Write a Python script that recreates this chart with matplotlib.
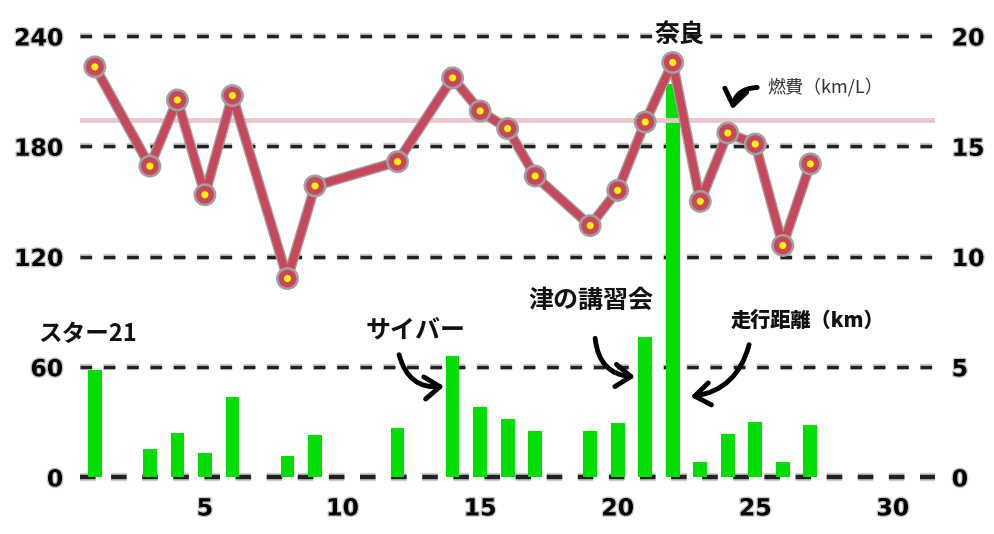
import matplotlib
matplotlib.use("Agg")
import matplotlib.pyplot as plt
import matplotlib.patheffects as pe
from matplotlib.patches import FancyArrowPatch

plt.rcParams['font.family'] = ['Noto Sans CJK JP', 'DejaVu Sans']

# ---- data ----
days = [1, 3, 4, 5, 6, 8, 9, 12, 14, 15, 16, 17, 19, 20, 21, 22, 23, 24, 25, 26, 27]
distance_km = [58, 15, 24, 13, 43.5, 11.5, 23, 26.7, 66, 38, 31.6, 25, 25, 29.4, 76, 214,
               8, 23.4, 30, 8, 28.5]
fuel_kmL = [18.6, 14.1, 17.1, 12.8, 17.3, 9.0, 13.2, 14.3, 18.1, 16.6, 15.8, 13.65, 11.4,
            13.0, 16.1, 18.8, 12.5, 15.6, 15.1, 10.5, 14.2]
fuel_ref = 16.2
left_ticks = [0, 60, 120, 180, 240]
right_ticks = [0, 5, 10, 15, 20]
x_ticks = [5, 10, 15, 20, 25, 30]

notes = [("スター21", 0.75, 78, 'bold', 17),
         ("サイバー", 12.67, 80, 'bold', 18),
         ("津の講習会", 19.02, 96, 'bold', 18),
         ("走行距離（km）", 26.9, 85, 'heavy', 14.5),
         ("奈良", 22.25, 240.5, 'bold', 18),
         ("燃費（km/L）", 27.53, 212, 'normal', 13)]
arrows = [((12.03, 68), (13.79, 49.5), 0.45),
          ((19.17, 77), (20.73, 54.4), 0.45),
          ((24.8, 73.5), (22.55, 43.5), -0.35),
          ((25.17, 212), (24.15, 198.6), 0.45)]

# ---- figure ----
fig = plt.figure(figsize=(9.94, 5.34), dpi=100)
ax = fig.add_axes([80/994, 1-477/534, 855/994, 441/534])
ax2 = ax.twinx()

ax.set_xlim(0.46, 31.53)
ax.set_ylim(0, 240)
ax2.set_ylim(0, 20)

for a in (ax, ax2):
    for s in a.spines.values():
        s.set_visible(False)
    a.tick_params(length=0)

# gridlines
for v in left_ticks:
    ax.axhline(v, color='#222222', lw=2.4 if v else 3.2, ls=(0, (3.5, 3.5)),
               clip_on=False, zorder=1,
               path_effects=[pe.withStroke(linewidth=4.5 if v else 6, foreground='#cccccc')])

ax.bar(days, distance_km, width=0.5, color='#00DD00', zorder=2)

ax2.axhline(fuel_ref, color='#EBC6CC', lw=3.5, zorder=2)
ax2.plot(days, fuel_kmL, color='#C8475A', lw=5.5, zorder=3, solid_joinstyle='round',
         marker='o', ms=9, mfc='#FFF200', mec='#C8475A', mew=3.8,
         path_effects=[pe.withStroke(linewidth=7.5, foreground='#a0a0a0')])

ax.set_xticks(x_ticks)
ax.set_xticklabels([str(t) for t in x_ticks], fontsize=17, fontweight='bold',
                   family='DejaVu Sans')
ax.set_yticks(left_ticks)
ax.set_yticklabels([str(t) for t in left_ticks], fontsize=17, fontweight='bold',
                   family='DejaVu Sans')
ax2.set_yticks(right_ticks)
ax2.set_yticklabels([str(t) for t in right_ticks], fontsize=17, fontweight='bold',
                    family='DejaVu Sans')
ax.tick_params(axis='x', pad=14)
ax.tick_params(axis='y', pad=12)
ax2.tick_params(axis='y', pad=12)
shadow = [pe.withStroke(linewidth=2, foreground='#c8c8c8')]
for lab in ax.get_xticklabels() + ax.get_yticklabels() + ax2.get_yticklabels():
    lab.set_path_effects(shadow)

for txt, x, y, w, fs in notes:
    ax.text(x, y, txt, ha='center', va='center', fontsize=fs, fontweight=w,
            color='#111111' if w != 'normal' else '#333333', zorder=5)

for (x0, y0), (x1, y1), rad in arrows:
    ax.add_patch(FancyArrowPatch((x0, y0), (x1, y1),
                                 connectionstyle=f"arc3,rad={rad}",
                                 arrowstyle='->,head_length=0.55,head_width=0.4',
                                 mutation_scale=20, lw=3.5, color='black',
                                 zorder=5, clip_on=False))

fig.savefig('out.png', dpi=100, facecolor='white')
